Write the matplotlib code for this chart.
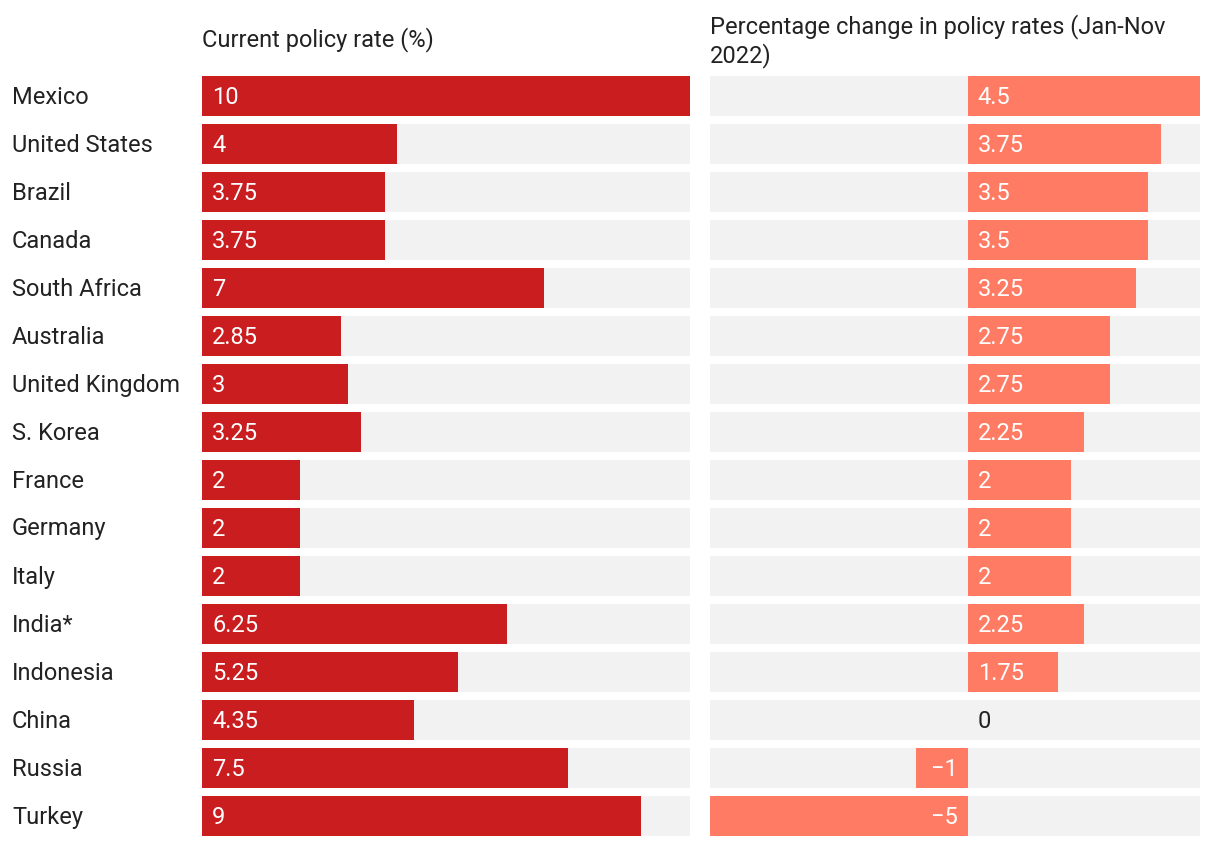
import matplotlib
matplotlib.use("Agg")
import matplotlib.pyplot as plt

plt.rcParams['font.family'] = ['Roboto', 'DejaVu Sans']

countries = ["Mexico", "United States", "Brazil", "Canada", "South Africa", "Australia",
             "United Kingdom", "S. Korea", "France", "Germany", "Italy", "India*",
             "Indonesia", "China", "Russia", "Turkey"]
current_rate = [10, 4, 3.75, 3.75, 7, 2.85, 3, 3.25, 2, 2, 2, 6.25, 5.25, 4.35, 7.5, 9]
rate_change = [4.5, 3.75, 3.5, 3.5, 3.25, 2.75, 2.75, 2.25, 2, 2, 2, 2.25, 1.75, 0, -1, -5]

W, H = 1220, 846
fig = plt.figure(figsize=(W / 100, H / 100), dpi=100)

dark_red = "#C91D1F"
salmon = "#FF7B63"
bg = "#F2F2F2"
txt = "#222222"
fs = 17

rows = list(range(len(countries)))
bh = 40 / 48
top_px, bot_px = 72, 840


def make_ax(x0, x1):
    return fig.add_axes([x0 / W, (H - bot_px) / H, (x1 - x0) / W, (bot_px - top_px) / H])


# left panel
ax1 = make_ax(202, 690)
ax1.barh(rows, [10] * len(rows), height=bh, color=bg)
ax1.barh(rows, current_rate, height=bh, color=dark_red)
ax1.set_xlim(0, 10)
ax1.set_ylim(len(rows) - 0.5, -0.5)
for i, v in enumerate(current_rate):
    lab = f"{v:g}"
    ax1.annotate(lab, (0, i), xytext=(10, -1), textcoords="offset pixels",
                 va="center", ha="left", color="white", fontsize=fs)
for i, c in enumerate(countries):
    fig.text(12 / W, 1 - (76 + 21 + 48 * i) / H, c, va="center", ha="left",
             fontsize=fs, color=txt)
ax1.axis("off")

# right panel
ax2 = make_ax(710, 1200)
lo, hi = -5, 4.5
ax2.barh(rows, [hi - lo] * len(rows), left=lo, height=bh, color=bg)
ax2.barh(rows, rate_change, height=bh, color=salmon)
ax2.set_xlim(lo, hi)
ax2.set_ylim(len(rows) - 0.5, -0.5)
for i, v in enumerate(rate_change):
    lab = f"{v:g}".replace("-", "\u2212")
    if v > 0:
        ax2.annotate(lab, (0, i), xytext=(10, -1), textcoords="offset pixels",
                     va="center", ha="left", color="white", fontsize=fs)
    elif v < 0:
        ax2.annotate(lab, (0, i), xytext=(-10, -1), textcoords="offset pixels",
                     va="center", ha="right", color="white", fontsize=fs)
    else:
        ax2.annotate(lab, (0, i), xytext=(10, -1), textcoords="offset pixels",
                     va="center", ha="left", color=txt, fontsize=fs)
ax2.axis("off")

fig.text(202 / W, 1 - 40 / H, "Current policy rate (%)", va="center", ha="left",
         fontsize=fs, color=txt)
fig.text(710 / W, 1 - 14 / H, "Percentage change in policy rates (Jan-Nov\n2022)",
         va="top", ha="left", fontsize=fs, color=txt, linespacing=1.2)

fig.savefig("out.png", dpi=100, facecolor="white")
